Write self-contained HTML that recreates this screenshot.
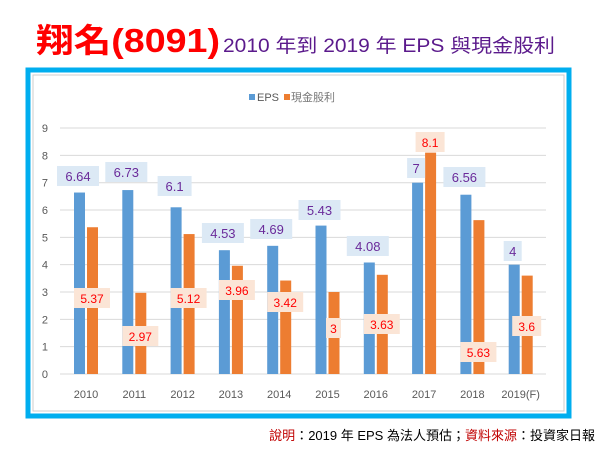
<!DOCTYPE html><html><head><meta charset="utf-8"><style>body{margin:0;background:#fff;width:600px;height:449px;overflow:hidden}</style></head><body>
<svg width="600" height="449" xmlns="http://www.w3.org/2000/svg" font-family="Liberation Sans, Noto Sans CJK TC, sans-serif">
<text x="36" y="52" font-size="33" fill="#ff0000" font-weight="bold" textLength="184" lengthAdjust="spacingAndGlyphs">翔名(8091)</text>
<text x="223" y="52" font-size="19" fill="#5b1a8c" textLength="332" lengthAdjust="spacingAndGlyphs">2010 年到 2019 年 EPS 與現金股利</text>
<rect x="28" y="70" width="541" height="346" fill="#fff" stroke="#00aeef" stroke-width="5"/>
<rect x="33" y="75" width="531" height="336" fill="none" stroke="#ccc" stroke-width="1"/>
<rect x="249" y="94" width="6" height="6" fill="#5b9bd5"/><text x="257" y="101" font-size="11" fill="#595959">EPS</text>
<rect x="284" y="94" width="6" height="6" fill="#ed7d31"/><text x="291" y="101" font-size="11" fill="#777">現金股利</text>
<script>
var s=document.querySelector('svg'),NS='http://www.w3.org/2000/svg';
function el(t,a,txt){var e=document.createElementNS(NS,t);for(var k in a)e.setAttribute(k,a[k]);if(txt!=null)e.textContent=txt;s.appendChild(e);return e}
var y0=374,u=27.33;
for(var i=0;i<=9;i++){var y=y0-i*u;el('line',{x1:60,x2:546,y1:y,y2:y,stroke:'#d9d9d9'});el('text',{x:48,y:y+4,'font-size':11,fill:'#595959','text-anchor':'end'},i)}
var yrs=['2010','2011','2012','2013','2014','2015','2016','2017','2018','2019(F)'];
var e=[6.64,6.73,6.1,4.53,4.69,5.43,4.08,7,6.56,4];
var d=[5.37,2.97,5.12,3.96,3.42,3,3.63,8.1,5.63,3.6];
var ey=[176,172,186,233,229,210,246,168,177,251];
var dy=[298,336,298,290,302,328,324,142,352,326];
for(var i=0;i<10;i++){var c=86+i*48.3;
el('rect',{x:c-12,y:y0-e[i]*u,width:11,height:e[i]*u,fill:'#5b9bd5'});
el('rect',{x:c+1,y:y0-d[i]*u,width:11,height:d[i]*u,fill:'#ed7d31'});
el('text',{x:c,y:398,'font-size':11,fill:'#595959','text-anchor':'middle'},yrs[i]);
var w=String(e[i]).length*8+10;
el('rect',{x:c-8-w/2,y:ey[i]-10,width:w,height:20,fill:'#dce9f5'});
el('text',{x:c-8,y:ey[i]+5,'font-size':13,fill:'#6a2a9a','text-anchor':'middle'},e[i]);
var w2=String(d[i]).length*7+8;
el('rect',{x:c+6-w2/2,y:dy[i]-10,width:w2,height:20,fill:'#fbe5d6'});
el('text',{x:c+6,y:dy[i]+5,'font-size':12,fill:'#ff0000','text-anchor':'middle'},d[i]);}
</script>
<text x="595" y="440" font-size="13" text-anchor="end" fill="#000"><tspan fill="#c00000">說明</tspan>：2019 年 EPS 為法人預估；<tspan fill="#c00000">資料來源</tspan>：投資家日報</text>
</svg></body></html>
